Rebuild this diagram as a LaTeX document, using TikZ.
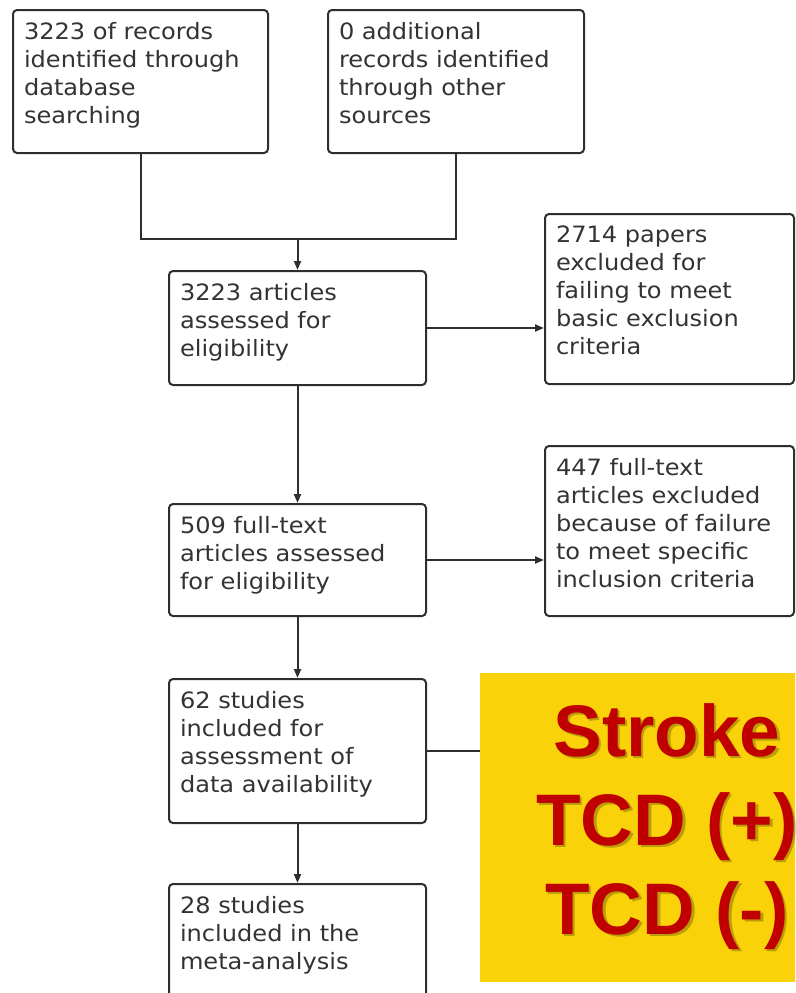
\documentclass[tikz,border=0pt]{standalone}
\usepackage{fontspec}
\setmainfont{DejaVu Sans}
\newfontfamily\flowfont[FakeStretch=1.07]{DejaVu Sans}
\newfontfamily\tcdfont{Liberation Sans}
\usetikzlibrary{arrows.meta}
\usetikzlibrary{calc}
\definecolor{tcdgold}{HTML}{FAD20A}
\definecolor{tcdred}{HTML}{C00000}
\definecolor{boxline}{HTML}{2E2E2E}
\definecolor{flowink}{HTML}{333333}
% box text: width, height, lines
\newcommand{\flowText}[3]{\parbox[t][\dimexpr#2pt-24pt\relax][t]{\dimexpr#1pt-22pt\relax}{\raggedright #3}}
\tikzset{
  flowbox/.style={draw=boxline, line width=2pt, rounded corners=4pt, anchor=north west,
    inner xsep=11pt, inner ysep=12pt, fill=white, text=flowink,
    font=\flowfont\fontsize{22.5}{28}\selectfont},
  flowline/.style={draw=boxline, line width=2pt},
  flowarrow/.style={flowline, -{Triangle[length=9pt,width=7pt]}},
  tcdtext/.style={anchor=north, inner sep=0pt, align=center,
    font=\tcdfont\bfseries\fontsize{73}{89}\selectfont}
}

\begin{document}
\begin{tikzpicture}[x=1pt,y=-1pt]
%%%%%%%%%%%%%%%%%%
\useasboundingbox (0,0) rectangle (795,993);
\clip (0,0) rectangle (795,993);

%Identification
\node[flowbox] (records) at (12,9) {\flowText{255}{143}{3223 of records\\identified through\\database\\searching}};
\node[flowbox] (other) at (327,9) {\flowText{256}{143}{0 additional\\records identified\\through other\\sources}};

%Screening
\node[flowbox] (assessed) at (168,270) {\flowText{257}{114}{3223 articles\\assessed for\\eligibility}};
\node[flowbox] (excluded) at (544,213) {\flowText{249}{170}{2714 papers\\excluded for\\failing to meet\\basic exclusion\\criteria}};

%Eligibility
\node[flowbox] (fulltext) at (168,503) {\flowText{257}{112}{509 full-text\\articles assessed\\for eligibility}};
\node[flowbox] (excludedft) at (544,445) {\flowText{249}{170}{447 full-text\\articles excluded\\because of failure\\to meet specific\\inclusion criteria}};

%Included
\node[flowbox] (availability) at (168,678) {\flowText{257}{144}{62 studies\\included for\\assessment of\\data availability}};
\node[flowbox] (included) at (168,883) {\flowText{257}{130}{28 studies\\included in the\\meta-analysis}};

% Connect boxes
\coordinate (merge) at (assessed.north |- 0,239);
\draw[flowline] (records.south) |- (merge);
\draw[flowline] (other.south) |- (merge);
\draw[flowarrow] (merge) -- (assessed.north);
\draw[flowarrow] (assessed.east) -- (assessed.east -| excluded.west);
\draw[flowarrow] (assessed.south) -- (fulltext.north);
\draw[flowarrow] (fulltext.east) -- (fulltext.east -| excludedft.west);
\draw[flowarrow] (fulltext.south) -- (availability.north);
\draw[flowarrow] (availability.south) -- (included.north);

%Yellow panel
\node[fill=tcdgold, anchor=north west, inner sep=0pt, minimum width=320, minimum height=309] (tcd) at (480,673) {};
\draw[flowline] (availability.east) -- (availability.east -| tcd.west);
\node[tcdtext, text=black, opacity=0.25] (tcdshadow) at (669.5,705.5) {Stroke\\TCD (+)\\TCD (-)};
\node[tcdtext, text=tcdred] (tcdlabel) at (667,703) {Stroke\\TCD (+)\\TCD (-)};
\end{tikzpicture}
\end{document}
